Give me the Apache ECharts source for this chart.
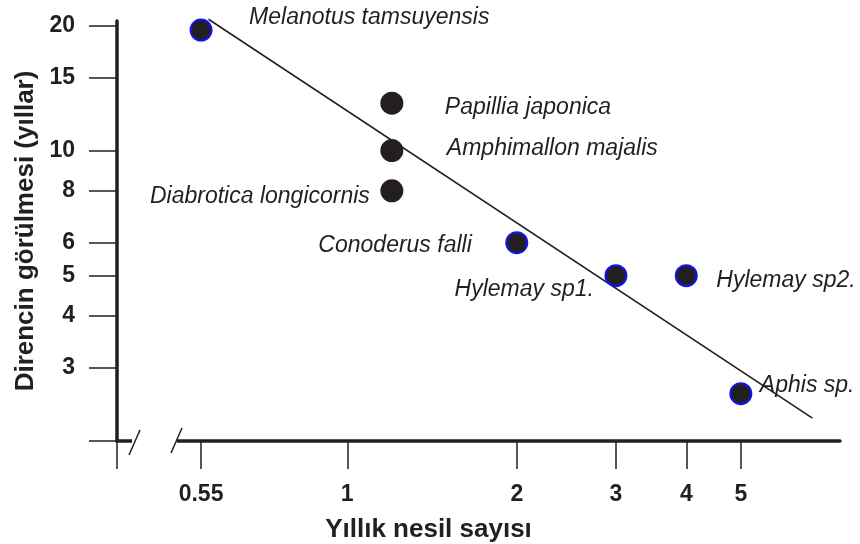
<!DOCTYPE html>
<html><head><meta charset="utf-8">
<script src="https://cdn.jsdelivr.net/npm/echarts@6/dist/echarts.min.js"></script>
<style>html,body{margin:0;padding:0;background:#fff}#c{width:860px;height:544px}</style>
</head><body><div id="c"></div>
<script>
// ---- data ----
const species = ['Melanotus tamsuyensis','Papillia japonica','Amphimallon majalis','Diabrotica longicornis','Conoderus falli','Hylemay sp1.','Hylemay sp2.','Aphis sp.'];
const generationsPerYear = [0.55, 1.2, 1.2, 1.2, 2, 3, 4, 5];
const yearsToResistance = [19.5, 13, 10, 8, 6, 5, 5, 2.6];
const trendX = [0.567, 6.7];
const trendY = [20.7, 2.27];
const xTickValues = [0.55, 1, 2, 3, 4, 5];
const yTickValues = [3, 4, 5, 6, 8, 10, 15, 20];
const xRange = [0.39, 7.5];
const yRange = [2, 20.5];
const xTitle = 'Yıllık nesil sayısı';
const yTitle = 'Direncin görülmesi (yıllar)';

// ---- styles ----
const INK = '#231f20', BLUE = '#1212f2';
const FONT = '"Liberation Sans", Arial, Helvetica, sans-serif';
const rimmed = [true, false, false, false, true, true, true, true];
// label anchor relative to the point centre (px)
const labelPlace = [
  {align:'left',  offset:[49, -11]},
  {align:'left',  offset:[53, 4]},
  {align:'left',  offset:[55, -2]},
  {align:'right', offset:[-22, 6]},
  {align:'right', offset:[-44, 4]},
  {align:'right', offset:[-21, 15]},
  {align:'left',  offset:[31, 6]},
  {align:'left',  offset:[20, -7]}
];

const chart = echarts.init(document.getElementById('c'), null, {renderer:'canvas'});
const fmt = v => String(Math.round(v * 100) / 100);

const points = species.map((name, i) => {
  const size = rimmed[i] ? 21 : 23;
  const h = size / 2;
  return {
    name,
    value: [generationsPerYear[i], yearsToResistance[i]],
    symbolSize: size,
    itemStyle: rimmed[i] ? {color: INK, borderColor: BLUE, borderWidth: 2, opacity: 1} : {color: INK, borderWidth: 0, opacity: 1},
    label: {
      show: true, formatter: name,
      position: [labelPlace[i].offset[0] + h, labelPlace[i].offset[1] + h],
      align: labelPlace[i].align, verticalAlign: 'middle',
      fontStyle: 'italic', fontSize: 23, fontFamily: FONT, color: INK, opacity: 1, textBorderWidth: 0
    }
  };
});

const axisCommon = {
  type: 'log', logBase: 10,
  splitLine: {show: false}, minorTick: {show: false}, minorSplitLine: {show: false},
  axisLine: {show: true, lineStyle: {color: INK, width: 3.5}},
  nameLocation: 'middle'
};

chart.setOption({
  animation: false,
  backgroundColor: '#fff',
  grid: {left: 117, right: 20, top: 21, bottom: 103, containLabel: false, outerBoundsMode: 'none'},
  xAxis: Object.assign({}, axisCommon, {
    min: xRange[0], max: xRange[1],
    axisTick: {show: true, customValues: [xRange[0] * 1.0005].concat(xTickValues), length: 28, lineStyle: {color: INK, width: 1.5}},
    axisLabel: {customValues: xTickValues, margin: 42, fontSize: 23, fontWeight: 'bold', fontFamily: FONT, color: INK, formatter: fmt},
    name: xTitle, nameGap: 76,
    nameTextStyle: {fontSize: 26, fontWeight: 'bold', fontFamily: FONT, color: INK, padding: [0, 100, 0, 0]}
  }),
  yAxis: Object.assign({}, axisCommon, {
    min: yRange[0], max: yRange[1],
    axisTick: {show: true, customValues: [yRange[0] * 1.0005].concat(yTickValues), length: 28, lineStyle: {color: INK, width: 1.5}},
    axisLabel: {customValues: yTickValues, margin: 42, fontSize: 23, fontWeight: 'bold', fontFamily: FONT, color: INK, formatter: fmt},
    name: yTitle, nameGap: 78,
    nameTextStyle: {fontSize: 26, fontWeight: 'bold', fontFamily: FONT, color: INK}
  }),
  series: [
    {
      type: 'line', data: trendX.map((x, i) => [x, trendY[i]]),
      symbol: 'none', clip: false, z: 1,
      lineStyle: {color: INK, width: 1.6}
    },
    {
      type: 'scatter', data: points, symbol: 'circle', z: 3, clip: false,
      itemStyle: {opacity: 1},
      emphasis: {disabled: true},
      labelLayout: {hideOverlap: false}
    }
  ]
});

// axis break marks ("//") on the x axis near the origin
const o = chart.convertToPixel({gridIndex: 0}, [xRange[0], yRange[0]]);
chart.setOption({
  graphic: [
    {type: 'rect', shape: {x: o[0] + 15, y: o[1] - 5, width: 45, height: 10}, style: {fill: '#fff'}, z: 100},
    {type: 'line', shape: {x1: o[0] + 12, y1: o[1] + 14, x2: o[0] + 23, y2: o[1] - 11}, style: {stroke: INK, lineWidth: 1.5}, z: 101},
    {type: 'line', shape: {x1: o[0] + 54, y1: o[1] + 12, x2: o[0] + 65, y2: o[1] - 13}, style: {stroke: INK, lineWidth: 1.5}, z: 101}
  ]
});
</script></body></html>
